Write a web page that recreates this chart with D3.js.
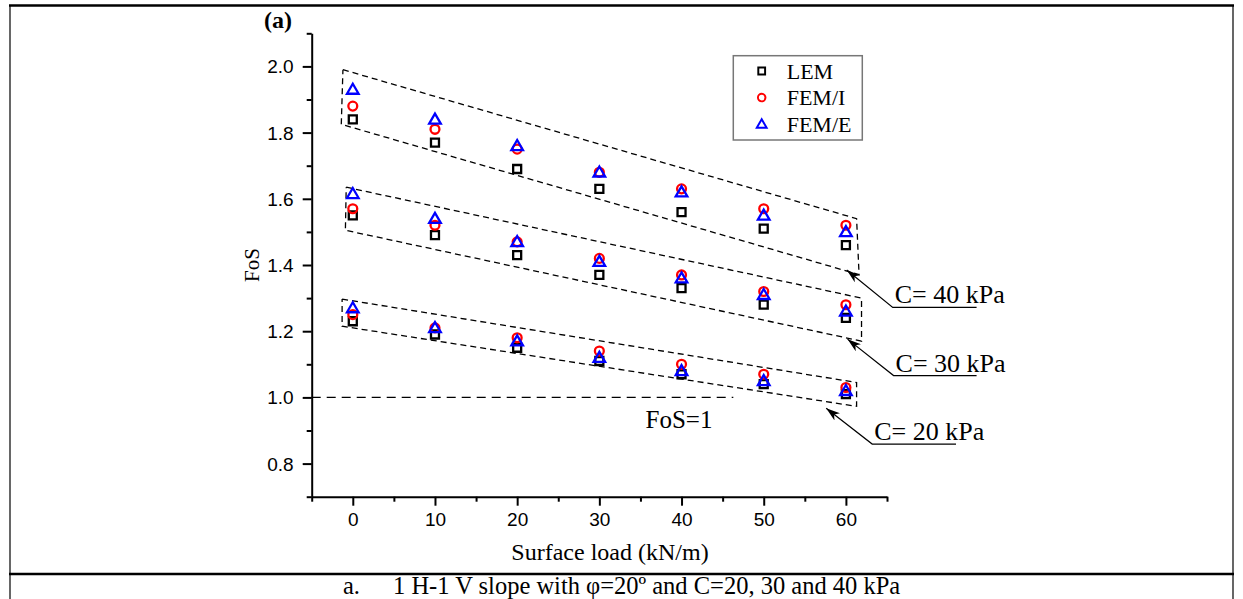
<!DOCTYPE html>
<html>
<head>
<meta charset="utf-8">
<script src="https://cdn.jsdelivr.net/npm/d3@7"></script>
<style>
  html, body { margin: 0; padding: 0; background: #fff; }
  svg { display: block; font-family: "Liberation Serif", "Times New Roman", serif; }
</style>
</head>
<body>
<svg id="chart" width="1243" height="599"></svg>
<script>
const loads = [0, 10, 20, 30, 40, 50, 60];
const methods = ["LEM", "FEM/I", "FEM/E"];
const cohesions = ["C= 20 kPa", "C= 30 kPa", "C= 40 kPa"];

// FoS per method, one array per cohesion
const lem20 = [1.23, 1.19, 1.15, 1.11, 1.07, 1.04, 1.01];
const femI20 = [1.25, 1.21, 1.18, 1.14, 1.10, 1.07, 1.03];
const femE20 = [1.27, 1.21, 1.17, 1.12, 1.08, 1.05, 1.02];
const lem30 = [1.55, 1.49, 1.43, 1.37, 1.33, 1.28, 1.24];
const femI30 = [1.57, 1.52, 1.47, 1.42, 1.37, 1.32, 1.28];
const femE30 = [1.615, 1.54, 1.47, 1.41, 1.36, 1.31, 1.26];
const lem40 = [1.84, 1.77, 1.69, 1.63, 1.56, 1.51, 1.46];
const femI40 = [1.88, 1.81, 1.75, 1.68, 1.63, 1.57, 1.52];
const femE40 = [1.93, 1.84, 1.76, 1.68, 1.62, 1.55, 1.50];

const xTicks = [0, 10, 20, 30, 40, 50, 60];
const yTicks = [0.8, 1.0, 1.2, 1.4, 1.6, 1.8, 2.0];

// dashed envelopes around each group, in data units (TL, TR, BR, BL)
const box20 = [[-1.3, 1.297], [61.3, 1.045], [61.3, 0.973], [-1.3, 1.215]];
const box30 = [[-0.8, 1.635], [61.9, 1.30], [61.9, 1.17], [-0.9, 1.505]];
const box40 = [[-1.2, 1.99], [61.3, 1.54], [61.6, 1.371], [-1.4, 1.825]];

// callouts: arrow tip, elbow, end of underline (data units)
const callout20 = [[57.6, 0.967], [63.2, 0.859], [73.4, 0.859]];
const callout30 = [[60.2, 1.176], [65.8, 1.066], [75.9, 1.066]];
const callout40 = [[60.1, 1.385], [65.7, 1.272], [75.9, 1.272]];

const COLORS = { "LEM": "#000000", "FEM/I": "#ff0000", "FEM/E": "#0000ff" };

const svg = d3.select("#chart");
const x = d3.scaleLinear().domain([-5, 65]).range([311.7, 887]);
const y = d3.scaleLinear().domain([0.7, 2.1]).range([496.7, 33.3]);

drawFrame();
drawAxes();
drawReferenceLine();
drawEnvelopes();
drawSeries();
drawLegend();
drawCallouts();

function drawFrame() {
  const frame = svg.append("g").attr("stroke", "#000");
  frame.append("line").attr("x1", 9).attr("x2", 1234).attr("y1", 5.5).attr("y2", 5.5).attr("stroke-width", 2.5);
  frame.append("line").attr("x1", 10).attr("x2", 10).attr("y1", 5).attr("y2", 599).attr("stroke-width", 1.2);
  frame.append("line").attr("x1", 1233).attr("x2", 1233).attr("y1", 5).attr("y2", 599).attr("stroke-width", 1.2);
  frame.append("line").attr("x1", 9).attr("x2", 1234).attr("y1", 574).attr("y2", 574).attr("stroke-width", 2.5);

  const caption = svg.append("text")
    .attr("y", 594)
    .attr("font-size", 24.5);
  caption.append("tspan").attr("x", 343).text("a.");
  caption.append("tspan").attr("x", 393)
    .text("1 H-1 V slope with \u03c6=20\u00ba and C=20, 30 and 40 kPa");

  svg.append("text")
    .attr("x", 264).attr("y", 28)
    .attr("font-size", 24)
    .attr("font-weight", "bold")
    .text("(a)");
}

function drawAxes() {
  const xAxis = d3.axisBottom(x)
    .tickValues(d3.range(-5, 66, 5))
    .tickSize(0)
    .tickFormat("");
  const gx = svg.append("g").attr("transform", `translate(0,${y(0.7)})`).call(xAxis);
  gx.select(".domain").attr("stroke-width", 2);
  gx.selectAll(".tick line")
    .attr("y2", (d) => (xTicks.includes(d) ? 9 : 5))
    .attr("stroke-width", 2);
  gx.selectAll(".tick")
    .filter((d) => xTicks.includes(d))
    .append("text")
    .attr("y", 29)
    .attr("fill", "#000")
    .attr("font-size", 19)
    .attr("text-anchor", "middle")
    .text((d) => d);

  const yAxis = d3.axisLeft(y)
    .tickValues(d3.range(7, 22).map((v) => v / 10))
    .tickSize(0)
    .tickFormat("");
  const gy = svg.append("g").attr("transform", `translate(${x(-5)},0)`).call(yAxis);
  gy.select(".domain").attr("stroke-width", 2);
  gy.selectAll(".tick line")
    .attr("x2", (d) => (yTicks.some((t) => Math.abs(t - d) < 1e-6) ? -9 : -5))
    .attr("stroke-width", 2);
  gy.selectAll(".tick")
    .filter((d) => yTicks.some((t) => Math.abs(t - d) < 1e-6))
    .append("text")
    .attr("x", -18)
    .attr("dy", "0.34em")
    .attr("fill", "#000")
    .attr("font-size", 19)
    .attr("text-anchor", "end")
    .text((d) => d3.format(".1f")(d));

  svg.append("text")
    .attr("transform", `translate(259,${(y(0.7) + y(2.1)) / 2}) rotate(-90)`)
    .attr("text-anchor", "middle")
    .attr("font-size", 21)
    .text("FoS");

  svg.append("text")
    .attr("x", 610).attr("y", 560)
    .attr("text-anchor", "middle")
    .attr("font-size", 24)
    .text("Surface load (kN/m)");
}

function drawReferenceLine() {
  svg.append("line")
    .attr("x1", x(-5)).attr("x2", x(46.3))
    .attr("y1", y(1)).attr("y2", y(1))
    .attr("stroke", "#000")
    .attr("stroke-width", 1.3)
    .attr("stroke-dasharray", "9,6");
  svg.append("text")
    .attr("x", 679).attr("y", 428)
    .attr("text-anchor", "middle")
    .attr("font-size", 25)
    .text("FoS=1");
}

function drawEnvelopes() {
  const line = d3.line().x((d) => x(d[0])).y((d) => y(d[1]));
  svg.append("g")
    .selectAll("path")
    .data([box20, box30, box40])
    .join("path")
    .attr("d", (d) => line([...d, d[0]]))
    .attr("fill", "none")
    .attr("stroke", "#000")
    .attr("stroke-width", 1.3)
    .attr("stroke-dasharray", "6,4");
}

function drawSeries() {
  const series = [
    { method: "LEM", values: [lem20, lem30, lem40] },
    { method: "FEM/I", values: [femI20, femI30, femI40] },
    { method: "FEM/E", values: [femE20, femE30, femE40] },
  ];
  for (const s of series) {
    const points = s.values.flatMap((vals) => vals.map((v, i) => [loads[i], v]));
    svg.append("g")
      .selectAll("path")
      .data(points)
      .join("path")
      .attr("transform", (d) => `translate(${x(d[0])},${y(d[1])})`)
      .attr("d", markerPath(s.method))
      .attr("fill", "none")
      .attr("stroke", COLORS[s.method])
      .attr("stroke-width", 2.3);
  }
}

function markerPath(method) {
  if (method === "LEM") return "M-4,-4H4V4H-4Z";
  if (method === "FEM/I") return d3.symbol(d3.symbolCircle, 62)();
  return "M0,-5.8L5.8,4.2H-5.8Z";
}

function drawLegend() {
  const g = svg.append("g").attr("transform", "translate(733.3,55.7)");
  g.append("rect")
    .attr("width", 129).attr("height", 84.3)
    .attr("fill", "#fff")
    .attr("stroke", "#777")
    .attr("stroke-width", 1.5);
  methods.forEach((m, i) => {
    const row = g.append("g").attr("transform", `translate(28.4,${15.3 + i * 26.6})`);
    row.append("path")
      .attr("d", markerPath(m))
      .attr("transform", "scale(0.85)")
      .attr("fill", "none")
      .attr("stroke", COLORS[m])
      .attr("stroke-width", 2.3);
    row.append("text")
      .attr("x", 25).attr("dy", "0.35em")
      .attr("font-size", 22)
      .text(m);
  });
}

function drawCallouts() {
  svg.append("defs").append("marker")
    .attr("id", "arrow")
    .attr("viewBox", "0 0 14 9")
    .attr("refX", 14).attr("refY", 4.5)
    .attr("markerWidth", 14).attr("markerHeight", 9)
    .attr("markerUnits", "userSpaceOnUse")
    .attr("orient", "auto-start-reverse")
    .append("path")
    .attr("d", "M0,0L14,4.5L0,9L4,4.5Z")
    .attr("fill", "#000");

  const items = [
    { label: cohesions[2], pts: callout40 },
    { label: cohesions[1], pts: callout30 },
    { label: cohesions[0], pts: callout20 },
  ];
  const line = d3.line().x((d) => x(d[0])).y((d) => y(d[1]));
  for (const item of items) {
    const [tip, elbow, end] = item.pts;
    svg.append("path")
      .attr("d", line([end, elbow, tip]))
      .attr("fill", "none")
      .attr("stroke", "#000")
      .attr("stroke-width", 1.2)
      .attr("marker-end", "url(#arrow)");
    svg.append("text")
      .attr("x", x(elbow[0]) + 2).attr("y", y(elbow[1]) - 4)
      .attr("font-size", 26)
      .text(item.label);
  }
}
</script>
</body>
</html>
